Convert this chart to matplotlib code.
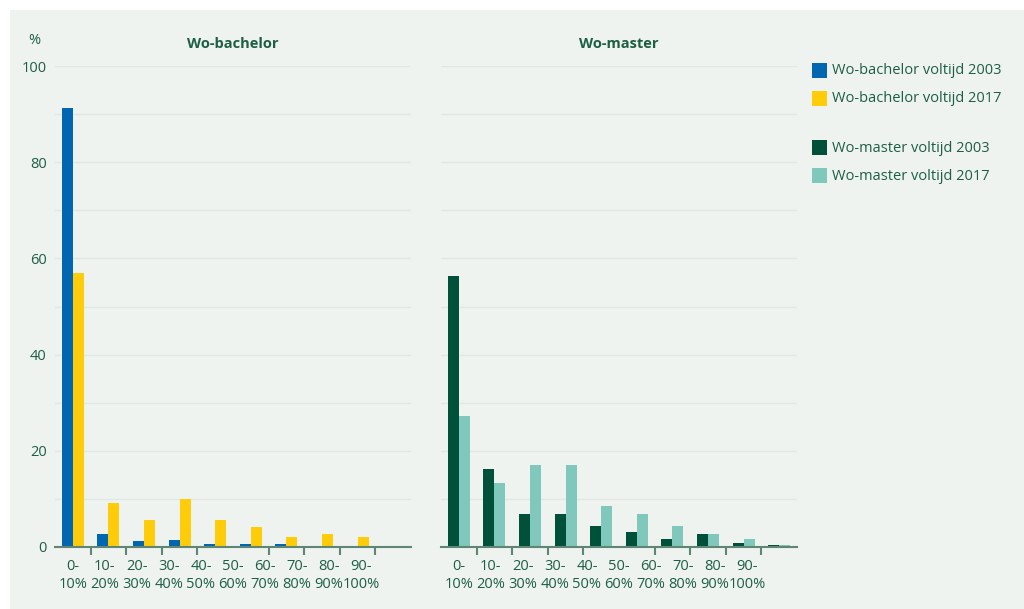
import matplotlib.pyplot as plt
import matplotlib.patches as mpatches
import numpy as np

categories = ["0-\n10%", "10-\n20%", "20-\n30%", "30-\n40%", "40-\n50%",
              "50-\n60%", "60-\n70%", "70-\n80%", "80-\n90%", "90-\n100%"]
bachelor_2003 = [91.3, 2.8, 1.3, 1.4, 0.7, 0.7, 0.7, 0.0, 0.0, 0.0]
bachelor_2017 = [57.0, 9.2, 5.7, 9.9, 5.7, 4.2, 2.1, 2.8, 2.1, 0.0]
master_2003 = [56.3, 16.2, 6.9, 6.9, 4.3, 3.2, 1.7, 2.6, 0.8, 0.4]
master_2017 = [27.2, 13.3, 17.1, 17.1, 8.6, 6.9, 4.3, 2.6, 1.7, 0.4]
legend_labels = ["Wo-bachelor voltijd 2003", "Wo-bachelor voltijd 2017",
                 "Wo-master voltijd 2003", "Wo-master voltijd 2017"]

BG = "#eef3ef"
TXT = "#1d5e44"
GRID = "#e1e7e3"
AXIS = "#5f8575"
C_BLUE = "#0066b1"
C_YEL = "#ffcc0a"
C_DARK = "#00503a"
C_LIGHT = "#80c8bb"

plt.rcParams['font.family'] = ['Open Sans', 'DejaVu Sans']

fig = plt.figure(figsize=(10.24, 6.09), dpi=100)
fig.patch.set_facecolor("white")
fig.patches.append(mpatches.Rectangle((10 / 1024, 0), 1, 1 - 10 / 609,
                                      transform=fig.transFigure,
                                      facecolor=BG, edgecolor="none", zorder=-10))

ax1 = fig.add_axes([55 / 1024, 62 / 609, 356 / 1024, 481 / 609])
ax2 = fig.add_axes([441 / 1024, 62 / 609, 356 / 1024, 481 / 609])

x = np.arange(len(categories))
w = 0.31

for ax, a, b, ca, cb, title in [
        (ax1, bachelor_2003, bachelor_2017, C_BLUE, C_YEL, "Wo-bachelor"),
        (ax2, master_2003, master_2017, C_DARK, C_LIGHT, "Wo-master")]:
    ax.set_facecolor("none")
    ax.bar(x - w / 2, a, width=w, color=ca, zorder=3)
    ax.bar(x + w / 2, b, width=w, color=cb, zorder=3)
    ax.set_xlim(-0.5, 9.5)
    ax.set_ylim(0, 100)
    ax.set_yticks(np.arange(0, 101, 10), minor=True)
    ax.set_yticks(np.arange(0, 101, 20))
    ax.grid(axis="y", which="both", color=GRID, linewidth=1, zorder=0)
    for s in ["top", "right", "left"]:
        ax.spines[s].set_visible(False)
    ax.spines["bottom"].set_color(AXIS)
    ax.spines["bottom"].set_linewidth(1.5)
    ax.spines["bottom"].set_zorder(4)
    ax.set_xticks(np.arange(0.5, 9, 1), minor=True)
    ax.set_xticks(x * 0.9)
    ax.set_xticklabels(categories, fontsize=10.5, color=TXT, linespacing=1.2)
    ax.tick_params(axis="x", which="major", length=0, pad=9)
    ax.tick_params(axis="x", which="minor", length=6, width=1.5, color=AXIS)
    ax.tick_params(axis="y", which="both", length=0)
    ax.set_title(title, fontsize=10.5, fontweight="bold", color=TXT, pad=13)

ax1.set_yticklabels([str(v) for v in range(0, 101, 20)], fontsize=10.5, color=TXT)
ax1.tick_params(axis="y", pad=6)
ax2.set_yticklabels([])
fig.text(28 / 1024, 1 - 41 / 609, "%", fontsize=10.5, color=TXT, va="center")

handles = [mpatches.Patch(color=c) for c in [C_BLUE, C_YEL, C_DARK, C_LIGHT]]
ypos = [71, 99, 148, 176]
for h, lab, yp in zip(handles, legend_labels, ypos):
    fig.patches.append(mpatches.Rectangle((812 / 1024, 1 - (yp + 7) / 609),
                                          15 / 1024, 15 / 609,
                                          transform=fig.transFigure,
                                          facecolor=h.get_facecolor(),
                                          edgecolor="none"))
    fig.text(832 / 1024, 1 - yp / 609, lab, fontsize=10.5, color=TXT, va="center")

plt.savefig("out.png", dpi=100, facecolor=fig.get_facecolor())
